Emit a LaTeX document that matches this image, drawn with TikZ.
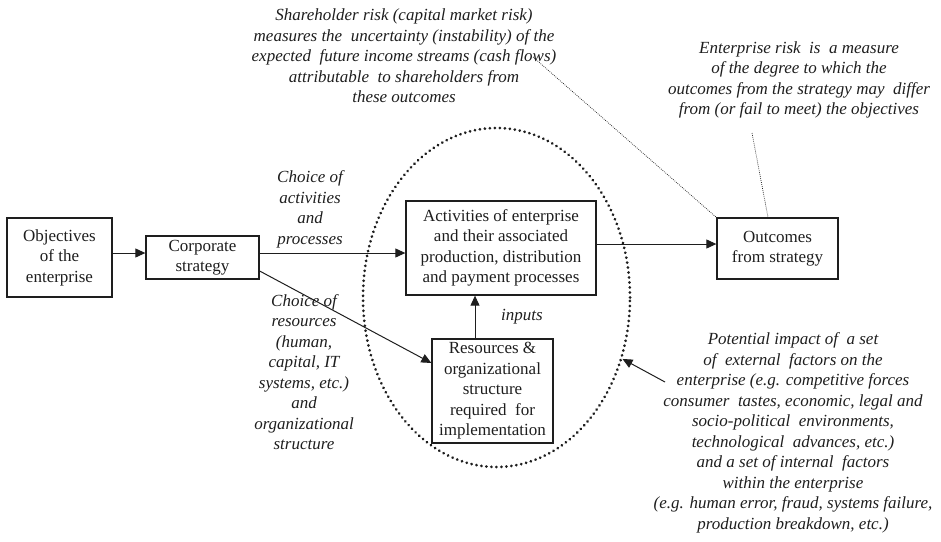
\documentclass[tikz,border=0pt]{standalone}
\usepackage{fontspec}
\setmainfont{Liberation Serif}
\usetikzlibrary{shapes.geometric,arrows.meta}
\definecolor{ink}{HTML}{1E1E1E}
\tikzset{
  box/.style={draw=ink, line width=1.3pt, align=center, inner sep=1pt, text=ink,
    font=\fontsize{17}{20.5}\selectfont},
  note/.style={align=center, inner sep=0pt, text=ink, font=\fontsize{17}{20.5}\selectfont\itshape},
  arr/.style={draw=ink, line width=1pt, -{Triangle[length=10pt,width=9pt]}},
  leader/.style={draw=ink, line width=0.7pt, dash pattern=on 0.8pt off 1.2pt},
  ring/.style={draw=ink, ellipse, line width=3pt, line cap=round, dash pattern=on 0.01pt off 5pt}
}
\begin{document}
\begin{tikzpicture}[x=1pt,y=-1pt]
\useasboundingbox (0,0) rectangle (941,541);

% ellipse
\node[ring, minimum width=267, minimum height=339, inner sep=0pt] (ell) at (496.5,297.5) {};

% boxes
\node[box, minimum width=105, minimum height=79] (obj) at (59.5,257.5) {Objectives\\of the\\enterprise};
\node[box, minimum width=113, minimum height=43] (corp) at (202.5,257.5) {Corporate\\strategy};
\node[box, minimum width=190, minimum height=94] (act) at (501,248) {Activities of enterprise\\and their associated\\production, distribution\\and payment processes};
\node[box, minimum width=121, minimum height=104, inner sep=0pt] (res) at (492.5,391) {Resources \&\\organizational\\structure\\required~ for\\implementation};
\node[box, minimum width=121, minimum height=61] (out) at (777.5,248.5) {Outcomes\\from strategy};

% notes
\node[note] (share) at (404,56) {Shareholder risk (capital market risk)\\measures the~ uncertainty (instability) of the\\expected~ future income streams (cash flows)\\attributable~ to shareholders from\\these outcomes};
\node[note] (ent) at (799,80) {Enterprise risk~ is~ a measure\\of the degree to which the\\outcomes from the strategy may~ differ\\from (or fail to meet) the objectives};
\node[note] (chact) at (310,209.5) {Choice of\\activities\\and\\processes};
\node[note] (chres) at (304,372) {Choice of\\resources\\(human,\\capital, IT\\systems, etc.)\\and\\organizational\\structure};
\node[note] (inp) at (522,317) {inputs};
\node[note] (pot) at (793,433) {Potential impact of~ a set\\of~ external~ factors on the\\enterprise (e.g. competitive forces\\consumer~ tastes, economic, legal and\\socio-political~ environments,\\technological~ advances, etc.)\\and a set of internal~ factors\\within the enterprise\\(e.g. human error, fraud, systems failure,\\production breakdown, etc.)};

% connectors
\coordinate (o1) at ([yshift=4.5pt]obj.east);
\draw[arr] (o1) -- (o1 -| corp.west);
\coordinate (c1) at ([yshift=4.5pt]corp.east);
\draw[arr] (c1) -- (c1 -| act.west);
\coordinate (a1) at ([yshift=4pt]act.east);
\draw[arr] (a1) -- (a1 -| out.west);
\draw[arr] ([yshift=-13.5pt]corp.east) -- ([yshift=28pt]res.west);
\coordinate (r1) at ([xshift=-17.5pt]res.north);
\draw[arr] (r1) -- (r1 |- act.south);

\coordinate (extTail) at (665,382);
\draw[arr] (extTail) -- (ell.-26);

\coordinate (shTail) at (533,57);
\draw[leader] (shTail) -- (out.north west);
\coordinate (enTail) at (752,133);
\draw[leader] (enTail) -- ([xshift=-9.5pt]out.north);
\end{tikzpicture}
\end{document}
